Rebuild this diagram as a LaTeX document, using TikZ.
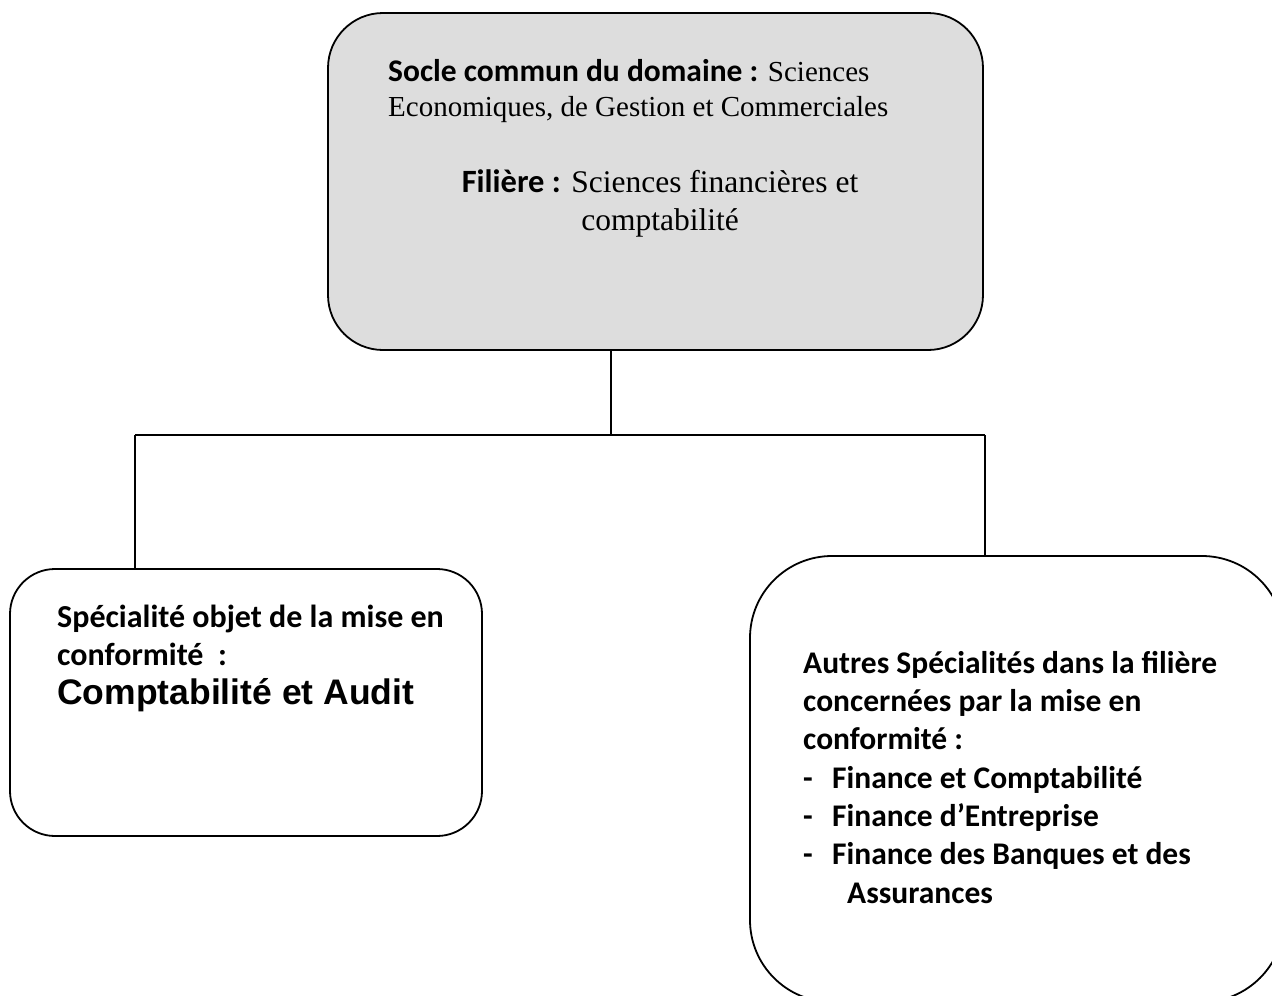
\documentclass[tikz,border=0pt]{standalone}
\usepackage{fontspec}
\setmainfont{Liberation Serif}
\newfontfamily\calib{Carlito}
\newfontfamily\arialf{Liberation Sans}
\usetikzlibrary{positioning}
\definecolor{boxgray}{RGB}{221,221,221}

\tikzset{
  card/.style={draw=black, line width=1.8pt, rectangle, inner sep=0pt},
  txt/.style={inner sep=0pt, anchor=base west, align=left},
  link/.style={draw=black, line width=1.8pt},
}

\begin{document}
\begin{tikzpicture}[x=1pt,y=-1pt]
      \useasboundingbox (0,0) rectangle (1272,996);
      \clip (0,0) rectangle (1272,996);

      % boxes
      \node[card, fill=boxgray, rounded corners=55pt,
        minimum width=655pt, minimum height=337pt] (socle) at (655.5,181.5) {};
      \node[card, rounded corners=45pt,
        minimum width=472pt, minimum height=267pt] (spec) at (246,702.5) {};
      \node[card, rounded corners=82pt,
        minimum width=534pt, minimum height=446pt] (autres) at (1017,779) {};

      % texts of the top box (anchored on the last line)
      \node[txt, font=\fontsize{29}{35}\selectfont] (socletxt) at (388,116)
        {{\calib\bfseries\fontsize{31.5}{35}\selectfont Socle commun du domaine :} Sciences\\
         Economiques, de Gestion et Commerciales};
      \node[txt, anchor=base, align=center,
        font=\fontsize{31.5}{38}\selectfont] (filtxt) at (660,230)
        {{\calib\bfseries\fontsize{32.5}{38}\selectfont Filière :} Sciences financières et\\
         comptabilité};

      % text of the left box
      \node[txt, font=\calib\bfseries\fontsize{32}{38}\selectfont] (spectxt) at (57,665)
        {Spécialité objet de la mise en\\
         conformité\ \ :};
      \node[txt, font=\arialf\bfseries\fontsize{35.5}{40}\selectfont] (audit) at (57,704)
        {Comptabilité et Audit};

      % text of the right box
      \node[txt, font=\calib\bfseries\fontsize{31.5}{38.3}\selectfont] (autrestxt) at (803,903)
        {Autres Spécialités dans la filière\\
         concernées par la mise en\\
         conformité :\\
         \makebox[29pt][l]{-}Finance et Comptabilité\\
         \makebox[29pt][l]{-}Finance d’Entreprise\\
         \makebox[29pt][l]{-}Finance des Banques et des\\
         \hspace*{44pt}Assurances};

      % connectors
      \coordinate (branch) at (611,435);
      \coordinate (jl) at (135,435);
      \coordinate (jr) at (985,435);
      \draw[link] (branch |- socle.south) -- (branch);
      \draw[link] (jl) -- (jr);
      \draw[link] (jl) -- (jl |- spec.north);
      \draw[link] (jr) -- (jr |- autres.north);
\end{tikzpicture}
\end{document}
